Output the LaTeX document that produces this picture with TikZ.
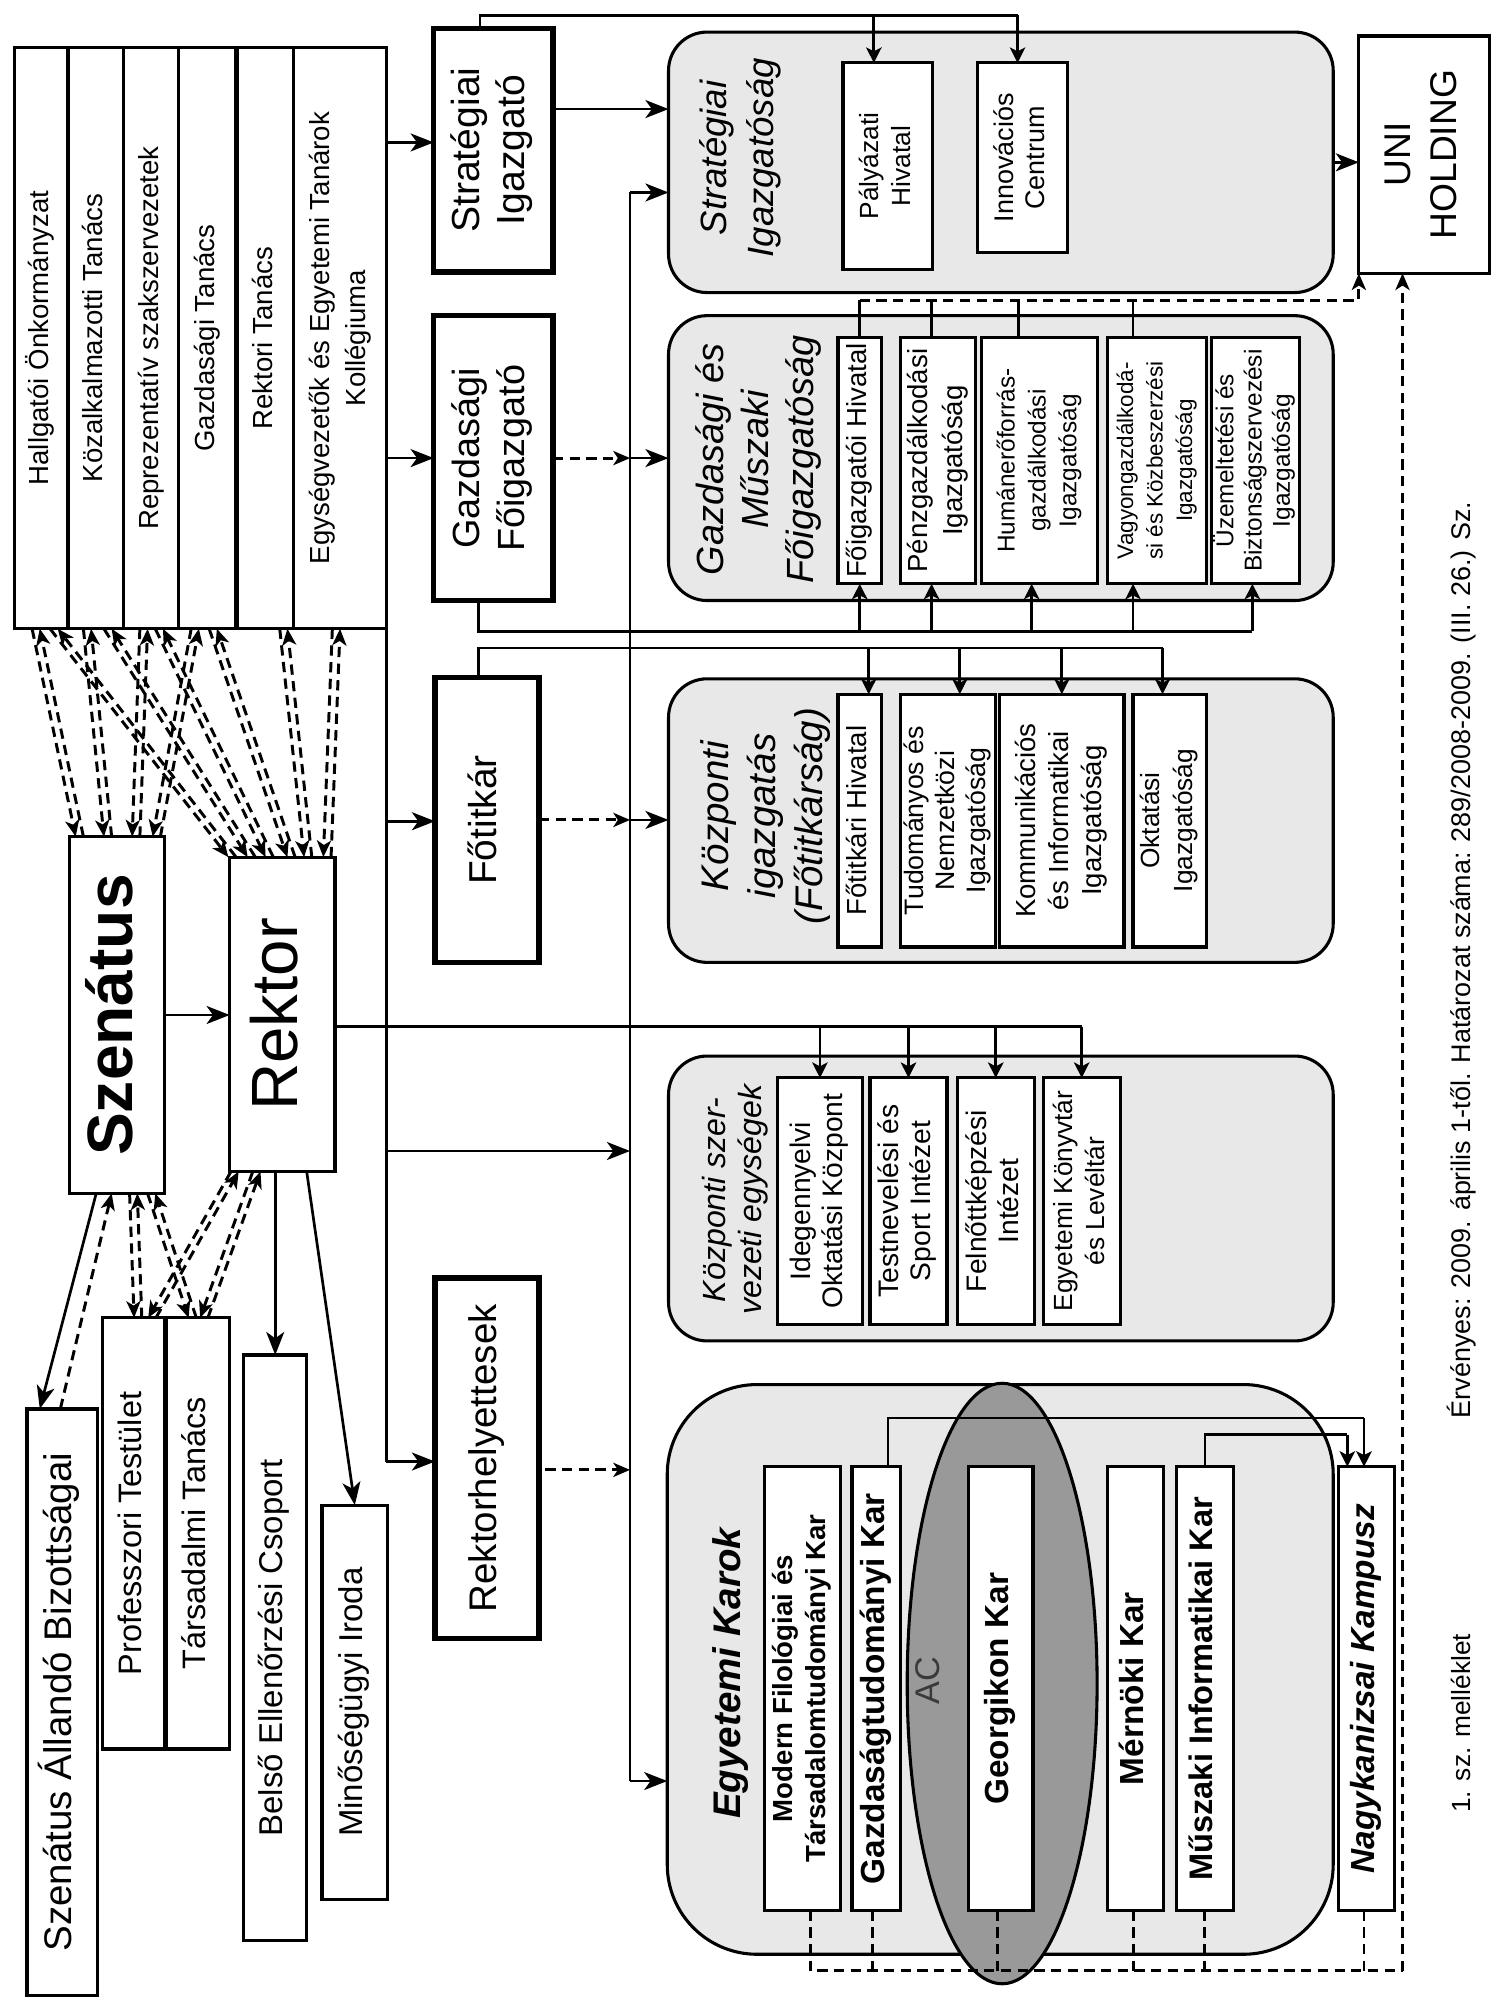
\documentclass[tikz,border=0pt]{standalone}
\usepackage{fontspec}
\setmainfont{Liberation Sans}
\usepackage{graphicx}
\usetikzlibrary{arrows.meta,calc,shapes.geometric}
\definecolor{grpfill}{HTML}{E8E8E8}
\definecolor{ellfill}{HTML}{999999}
\definecolor{acgray}{HTML}{3A3A3A}
\newcommand\rtx[1]{\rotatebox{90}{\begin{tabular}{@{}c@{}}#1\end{tabular}}}
\newcommand\myfs[2]{\fontsize{#1}{#2}\selectfont}
\newcommand\dpair[4]{%
  \draw[darr] ([xshift=#2pt-3pt]#1) -- ([xshift=#4pt-3pt]#3);
  \draw[darr] ([xshift=#4pt+3pt]#3) -- ([xshift=#2pt+3pt]#1);}
\begin{document}
\begin{tikzpicture}[x=1pt,y=-1pt,
  rect/.style args={#1/#2/#3/#4}{at={({(#1+#3)/2},{(#2+#4)/2})}, minimum width={#3-#1}, minimum height={#4-#2}},
  box/.style={draw, line width=2.5pt, fill=white, inner sep=0pt, outer sep=0pt},
  tbox/.style={draw, line width=4pt, fill=white, inner sep=0pt, outer sep=0pt},
  grp/.style={draw, line width=2.4pt, fill=grpfill, rounded corners=30pt, inner sep=0pt, outer sep=0pt},
  ln/.style={line width=2.1pt},
  arr/.style={ln, -{Stealth[length=18pt,width=14pt,inset=5pt]}},
  arrS/.style={ln, -{Stealth[length=12pt,width=12pt,inset=3pt]}},
  dsh/.style={ln, line width=2.3pt, dash pattern=on 8pt off 5pt},
  darr/.style={dsh, -{Stealth[length=13pt,width=11pt,inset=3.5pt]}},
]
\useasboundingbox (0,0) rectangle (1174,1568);
\fill[white] (0,0) rectangle (1174,1568);

% ---------- councils ----------
\node[box, rect=11/37/53/490, font=\myfs{21.5}{28.5}] (c1) {\rtx{Hallgatói Önkormányzat}};
\node[box, rect=53/37/96/490, font=\myfs{21.5}{28.5}] (c2) {\rtx{Közalkalmazotti Tanács}};
\node[box, rect=96/37/139/490, font=\myfs{21.5}{28.5}] (c3) {\rtx{Reprezentatív szakszervezetek}};
\node[box, rect=139/37/184/490, font=\myfs{21.5}{28.5}] (c4) {\rtx{Gazdasági Tanács}};
\node[box, rect=184/37/229/490, font=\myfs{21.5}{28.5}] (c5) {\rtx{Rektori Tanács}};
\node[box, rect=229/37/301/490, font=\myfs{21.5}{28.5}] (c6) {\rtx{Egységvezetők és Egyetemi Tanárok\\Kollégiuma}};
\draw[line width=4pt] (c5.north west) -- (c5.south west);

% ---------- senate, rector ----------
\node[box, rect=54/652/128/930, font=\myfs{50}{60}\bfseries] (szen) {\rtx{Szenátus}};
\node[box, rect=179/668/261/913, font=\myfs{51}{60}] (rek) {\rtx{Rektor}};

\node[box, rect=21/1098/76/1555, font=\myfs{30}{36}] (sab) {\rtx{Szenátus Állandó Bizottságai}};
\node[box, rect=80/1027/129/1363, font=\myfs{25.3}{30}] (prof) {\rtx{Professzori Testület}};
\node[box, rect=129/1027/179/1363, font=\myfs{25.3}{30}] (tars) {\rtx{Társadalmi Tanács}};
\draw[line width=4.5pt] (tars.north west) -- (tars.south west);
\node[box, rect=190/1056/239/1512, font=\myfs{25.7}{30}] (bel) {\rtx{Belső Ellenőrzési Csoport}};
\node[box, rect=251/1173/302/1480, font=\myfs{25.7}{30}] (min) {\rtx{Minőségügyi Iroda}};

% ---------- directors ----------
\node[tbox, rect=338/22/431/212, font=\myfs{30.5}{35}] (strig) {\rtx{Stratégiai\\Igazgató}};
\node[tbox, rect=338/246/431/468, font=\myfs{29.5}{35}] (gazf) {\rtx{Gazdasági\\Főigazgató}};
\node[tbox, rect=339/528/420/750, font=\myfs{30.3}{36}] (fotit) {\rtx{Főtitkár}};
\node[tbox, rect=339/996/420/1277, font=\myfs{30}{36}] (rekh) {\rtx{Rektorhelyettesek}};

% ---------- groups ----------
\node[grp, rect=521/25/1039/228] (gStrat) {};
\node[grp, rect=521/246/1039/468] (gGazd) {};
\node[grp, rect=521/529/1039/750] (gKoz) {};
\node[grp, rect=521/823/1039/1045] (gSzerv) {};
\node[grp, rounded corners=70pt, rect=520/1079/1039/1523] (gKar) {};

\node[font=\myfs{28.5}{37}\itshape] (tStrat) at (577,123) {\rtx{Stratégiai\\Igazgatóság}};
\node[font=\myfs{29.5}{35}\itshape] (tGazd) at (592,358) {\rtx{Gazdasági és\\Műszaki\\Főigazgatóság}};
\node[font=\myfs{30}{36.5}\itshape] (tKoz) at (597,636) {\rtx{Központi\\igazgatás\\(Főtitkárság)}};
\node[font=\myfs{25}{28}\itshape] (tSzerv) at (574,935) {\rtx{Központi szer-\\vezeti egységek}};
\node[font=\myfs{30}{36}\bfseries\itshape] (tKar) at (570,1304) {\rtx{Egyetemi Karok}};

\node[box, rect=1059/28/1161/213, font=\myfs{29}{36}] (uni) {\rtx{UNI\\HOLDING}};

% strategic subunits
\node[box, rect=657/49/727/210, font=\myfs{20.5}{25}] (palyh) {\rtx{Pályázati\\Hivatal}};
\node[box, rect=762/49/832/197, font=\myfs{21}{24}] (innov) {\rtx{Innovációs\\Centrum}};

% economic subunits
\node[box, rect=653/263/687/455, font=\myfs{21.5}{26}] (fh) {\rtx{Főigazgatói Hivatal}};
\node[box, rect=702/263/760/455, font=\myfs{21.5}{27}] (penz) {\rtx{Pénzgazdálkodási\\Igazgatóság}};
\node[box, rect=765/263/855/455, font=\myfs{19}{24}] (human) {\rtx{Humánerőforrás-\\gazdálkodási\\Igazgatóság}};
\node[box, rect=863/263/940/455, font=\myfs{17.5}{23}] (vagy) {\rtx{Vagyongazdálkodá-\\si és Közbeszerzési\\Igazgatóság}};
\node[box, rect=944/263/1013/455, font=\myfs{19}{22}] (uzem) {\rtx{Üzemeltetési és\\Biztonságszervezési\\Igazgatóság}};

% central administration subunits
\node[box, rect=653/541/687/738, font=\myfs{21.5}{26}] (fth) {\rtx{Főtitkári Hivatal}};
\node[box, rect=702/541/776/738, font=\myfs{20.8}{24}] (tud) {\rtx{Tudományos és\\Nemzetközi\\Igazgatóság}};
\node[box, rect=779/541/876/738, font=\myfs{21.5}{26}] (komm) {\rtx{Kommunikációs\\és Informatikai\\Igazgatóság}};
\node[box, rect=883/541/940/738, font=\myfs{20.5}{25}] (okt) {\rtx{Oktatási\\Igazgatóság}};

% central organisational units
\node[box, rect=606/840/672/1032, font=\myfs{22}{25}] (ide) {\rtx{Idegennyelvi\\Oktatási Központ}};
\node[box, rect=678/840/738/1032, font=\myfs{22}{25}] (test) {\rtx{Testnevelési és\\Sport Intézet}};
\node[box, rect=746/840/806/1032, font=\myfs{22}{25}] (feln) {\rtx{Felnőttképzési\\Intézet}};
\node[box, rect=813/840/873/1032, font=\myfs{20.5}{25}] (konyv) {\rtx{Egyetemi Könyvtár\\és Levéltár}};

% faculties
\node[draw, ellipse, line width=2.4pt, fill=ellfill, minimum width=148pt, minimum height=468pt, inner sep=0pt] (ell) at (781,1312) {};
\node[font=\myfs{26.7}{30}, text=acgray] (ac) at (726,1310) {\rtx{AC}};
\node[box, rect=596/1143/655/1489, font=\myfs{21.5}{26}\bfseries] (mod) {\rtx{Modern Filológiai és\\Társadalomtudományi Kar}};
\node[box, rect=664/1143/702/1489, font=\myfs{26}{30}\bfseries] (gtk) {\rtx{Gazdaságtudományi Kar}};
\node[box, rect=755/1143/805/1489, font=\myfs{26}{30}\bfseries] (geo) {\rtx{Georgikon Kar}};
\node[box, rect=863/1143/907/1489, font=\myfs{26}{30}\bfseries] (mer) {\rtx{Mérnöki Kar}};
\node[box, rect=917/1143/961/1489, font=\myfs{25.4}{30}\bfseries] (mik) {\rtx{Műszaki Informatikai Kar}};
\node[box, rect=1043/1143/1087/1489, font=\myfs{26}{30}\bfseries\itshape] (nk) {\rtx{Nagykanizsai Kampusz}};

% footnotes
\node[font=\myfs{20.5}{25}] (f1) at (1141,1343) {\rtx{1. sz. melléklet}};
\node[font=\myfs{21}{25}] (f2) at (1141,748) {\rtx{Érvényes: 2009. április 1-től. Határozat száma: 289/2008-2009. (III. 26.) Sz.}};

% ---------- connectors ----------
% council <-> senate / rector
\dpair{c1.south}{-4}{szen.north}{-29}
\dpair{c1.south}{10}{rek.north}{-39}
\dpair{c2.south}{-6.5}{szen.north}{-7}
\dpair{c2.south}{9.5}{rek.north}{-24}
\dpair{c3.south}{-5.5}{szen.north}{15}
\dpair{c3.south}{6.5}{rek.north}{-10}
\dpair{c4.south}{-9.5}{szen.north}{31}
\dpair{c4.south}{4.5}{rek.north}{7}
\dpair{c5.south}{14.5}{rek.north}{20}
\dpair{c6.south}{-3}{rek.north}{35}
% senate / rector <-> professors, social council
\dpair{szen.south}{13}{prof.north}{3}
\dpair{szen.south}{27}{tars.north}{-4}
\dpair{rek.south}{-37}{prof.north}{14}
\dpair{rek.south}{-20}{tars.north}{5}

\draw[arr] (szen.east) -- (szen.east -| rek.west);
\draw[arr] ([xshift=-16pt]szen.south) -- ([xshift=-17.5pt]sab.north);
\draw[darr] ([xshift=-1.5pt]sab.north) -- ([xshift=-4pt]szen.south);
\draw[arr] (bel.north |- rek.south) -- (bel.north);
\draw[arr] ([xshift=19pt]rek.south) -- (min.north);

% left spine
\coordinate (sLa) at (301,111);
\coordinate (sLb) at (301,357);
\coordinate (sLc) at (301,640);
\coordinate (sLe) at (301,897);
\coordinate (sLd) at (301,1139);
\draw[ln] (sLa) -- (sLd);
\draw[arr] (sLa) -- (sLa -| strig.west);
\draw[arr] (sLb) -- (sLb -| gazf.west);
\draw[arr] (sLc) -- (sLc -| fotit.west);
\draw[arr] (sLd) -- (sLd -| rekh.west);

% right spine
\coordinate (sRa) at (491,150);
\coordinate (sRf) at (491,1388);
\draw[ln] (sRa) -- (sRf);
\draw[arr] (sRa) -- (sRa -| gStrat.west);
\draw[arr] (gazf.east -| sRa) -- (gazf.east -| gGazd.west);
\draw[arr] (fotit.east -| sRa) -- (fotit.east -| gKoz.west);
\draw[arr] (sRf) -- (sRf -| gKar.west);
\draw[arr] (sLe) -- (sLe -| sRa);
\draw[darr] (gazf.east) -- (gazf.east -| sRa);
\draw[darr] (fotit.east) -- (fotit.east -| sRa);
\coordinate (rhd) at ([xshift=5pt,yshift=-9pt]rekh.east);
\draw[darr] (rhd) -- (rhd -| sRa);

% rector -> central units
\coordinate (rl0) at ([yshift=-9.5pt]rek.east);
\coordinate (rlR) at (843,800);
\draw[ln] (rl0) -- (rlR);
\foreach \n in {ide,test,feln,konyv} \draw[arrS] (\n.north |- rlR) -- (\n.north);

% strategic director
\coordinate (sg1) at ([yshift=32pt]strig.east);
\draw[arr] (sg1) -- (sg1 -| gStrat.west);
\coordinate (st0) at ([xshift=-10.5pt]strig.north);
\coordinate (stTop) at (793,12);
\coordinate (pa) at ([xshift=-11pt]palyh.north);
\coordinate (inv) at ([xshift=-4pt]innov.north);
\draw[ln] (st0) |- (stTop);
\draw[arrS] (pa |- stTop) -- (pa);
\draw[arrS] (inv |- stTop) -- (inv);
\draw[arr] (gStrat.east) -- (gStrat.east -| uni.west);

% economic: dashed to UNI and ticks
\coordinate (dGa) at (670,234);
\draw[darr] (dGa) -| (uni.south west);
\coordinate (t1) at (fh.north);
\coordinate (t2) at ([xshift=-5pt]penz.north);
\coordinate (t3) at ([xshift=-16pt]human.north);
\coordinate (t4) at ([xshift=-18.5pt]vagy.north);
\foreach \t in {t1,t2,t3,t4} \draw[ln] (\t |- dGa) -- (\t);

% economic director -> subunits
\coordinate (gb0) at ([xshift=-11.5pt]gazf.south);
\coordinate (gbR) at (976,492);
\draw[ln] (gb0) |- (gbR);
\coordinate (u1) at (fh.south);
\coordinate (u2) at ([xshift=-5pt]penz.south);
\coordinate (u3) at ([xshift=-6pt]human.south);
\coordinate (u4) at ([xshift=-18.5pt]vagy.south);
\coordinate (u5) at ([xshift=-2.5pt]uzem.south);
\foreach \u in {u1,u2,u3,u4,u5} \draw[arrS] (\u |- gbR) -- (\u);

% secretary general -> subunits
\coordinate (ft0) at ([xshift=-6.5pt]fotit.north);
\coordinate (ftR) at (906,505);
\draw[ln] (ft0) |- (ftR);
\coordinate (d1) at ([xshift=7pt]fth.north);
\coordinate (d2) at ([xshift=9pt]tud.north);
\coordinate (d3) at (komm.north);
\coordinate (d4) at ([xshift=-5.5pt]okt.north);
\foreach \d in {d1,d2,d3,d4} \draw[arrS] (\d |- ftR) -- (\d);

% faculties -> Nagykanizsa
\coordinate (g0) at ([xshift=9pt]gtk.north);
\coordinate (gR) at (1063,1105);
\draw[ln] (g0) |- (gR);
\draw[arrS] (gR) -- (gR |- nk.north);
\coordinate (m0) at (mik.north);
\coordinate (mR) at (1050,1118);
\draw[ln] (m0) |- (mR);
\draw[arrS] (mR) -- (mR |- nk.north);

% faculties dashed -> UNI
\coordinate (db) at (1093,1536);
\coordinate (b1) at ([xshift=6.5pt]mod.south);
\coordinate (b2) at ([xshift=-3pt]gtk.south);
\coordinate (b3) at ([xshift=-3pt]geo.south);
\coordinate (b4) at ([xshift=-2pt]mer.south);
\coordinate (b5) at (mik.south);
\coordinate (b6) at ([xshift=-2pt]nk.south);
\draw[dsh] (b1) |- (db);
\foreach \b in {b2,b3,b4,b5,b6} \draw[dsh] (\b) -- (\b |- db);
\draw[darr] (db) -- (db |- uni.south);
\end{tikzpicture}
\end{document}
